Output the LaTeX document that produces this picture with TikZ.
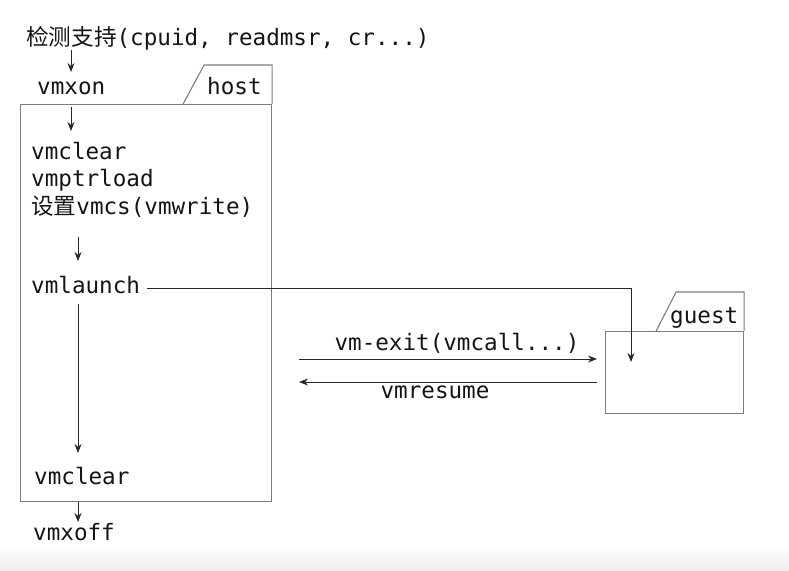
\documentclass[tikz,border=0pt]{standalone}
\usepackage{fontspec}
\setmonofont{DejaVu Sans Mono}
\newfontfamily\cjk{Noto Sans CJK SC}
\usetikzlibrary{arrows.meta,calc}
\definecolor{boxc}{RGB}{125,125,125}
\definecolor{arrc}{RGB}{40,40,40}
\definecolor{txtc}{RGB}{20,20,20}
\tikzset{
  lbl/.style={inner sep=0pt, anchor=base west, text=txtc, font=\ttfamily\fontsize{22.6}{27}\selectfont},
  framebox/.style={draw=boxc, line width=1.1pt, inner sep=0pt, anchor=north west},
  tabline/.style={draw=boxc, line width=1.1pt},
  arr/.style={draw=arrc, line width=0.9pt, -{Stealth[length=9pt,width=7pt]}},
  plain/.style={draw=arrc, line width=0.9pt}
}
\begin{document}
\begin{tikzpicture}[x=1pt,y=-1pt]
\useasboundingbox (0,0) rectangle (789,570);
\shade[top color=white, bottom color=black!7, draw=none] (0,545) rectangle (789,570);

% host frame
\node[framebox, minimum width=251pt, minimum height=397pt] (hostbox) at (20,104) {};
\draw[tabline] ($(hostbox.north east)+(-89,0)$) -- ++(21,-39) -| (hostbox.north east);
\node[lbl] (host) at (207,94) {host};

% guest frame
\node[framebox, minimum width=138pt, minimum height=82pt] (guestbox) at (605,331) {};
\draw[tabline] ($(guestbox.north east)+(-88,0)$) -- ++(20,-39) -| (guestbox.north east);
\node[lbl] (guest) at (670,323) {guest};

% texts
\node[lbl] (chk) at (26,45) {{\cjk 检测支持}(cpuid, readmsr, cr...)};
\node[lbl] (vmxon) at (37,94) {vmxon};
\node[lbl] (vmclear) at (31,159) {vmclear};
\node[lbl] (vmptrload) at (31,186) {vmptrload};
\node[lbl] (setvmcs) at (31,214) {{\cjk 设置}vmcs(vmwrite)};
\node[lbl] (vmlaunch) at (31,293) {vmlaunch};
\node[lbl] (vmclear2) at (34,484) {vmclear};
\node[lbl] (vmxoff) at (33,540) {vmxoff};
\node[lbl, anchor=base] (exitlbl) at (457,350) {vm-exit(vmcall...)};
\node[lbl, anchor=base] (resumelbl) at (435,398) {vmresume};

% coordinates for arrow ends
\coordinate (a1s) at (71,50);  \coordinate (a1e) at (71,72);
\coordinate (a2s) at (71,107); \coordinate (a2e) at (71,131);
\coordinate (a3s) at (78,237); \coordinate (a3e) at (78,261);
\coordinate (a4s) at (78,304); \coordinate (a4e) at (78,453);
\coordinate (a5e) at (78,522);
\coordinate (ls) at (147,288); \coordinate (le) at (631,362);
\coordinate (exs) at (299,359); \coordinate (exe) at (597,359);
\coordinate (rss) at (597,382); \coordinate (rse) at (299,382);

% connectors
\draw[arr] (a1s) -- (a1e);
\draw[arr] (a2s) -- (a2e);
\draw[arr] (a3s) -- (a3e);
\draw[arr] (a4s) -- (a4e);
\draw[arr] (hostbox.south -| a5e) -- (a5e);
\draw[arr] (ls) -| (le);
\draw[arr] (exs) -- (exe);
\draw[arr] (rss) -- (rse);
\end{tikzpicture}
\end{document}
